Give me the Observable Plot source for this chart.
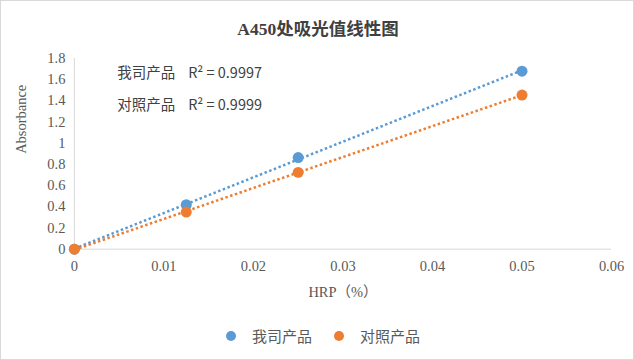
<!DOCTYPE html>
<html><head><meta charset="utf-8">
<script src="https://cdn.jsdelivr.net/npm/d3@7"></script>
<script src="https://cdn.jsdelivr.net/npm/@observablehq/plot@0.6"></script>
<style>
html,body{margin:0;padding:0;background:#fff;}
#wrap{position:relative;width:634px;height:360px;box-sizing:border-box;border:1px solid #d9d9d9;overflow:hidden;}
#title{position:absolute;left:0;top:14px;width:634px;text-align:center;font:bold 17.5px "Liberation Serif","Noto Sans CJK SC",serif;color:#404040;}
#chart{position:absolute;left:-1px;top:44px;}
#legend{position:absolute;left:5px;top:324px;width:634px;display:flex;justify-content:center;align-items:center;font:15px "Noto Sans CJK SC","Noto Sans",sans-serif;color:#595959;}
#legend span.dot{display:inline-block;width:10px;height:10px;border-radius:50%;margin-right:16px;}
#legend span.item{display:inline-flex;align-items:center;margin:0 11px;}
</style></head>
<body><div id="wrap"><div id="title">A450处吸光值线性图</div><div id="chart"></div><div id="legend"></div></div>
<script>
const hrp = [0, 0.0125, 0.025, 0.05];
const ours = [0, 0.42, 0.865, 1.68];
const control = [0, 0.35, 0.725, 1.455];
const seriesNames = ["我司产品", "对照产品"];
const r2Labels = ["R² = 0.9997", "R² = 0.9999"];
const colors = ["#5B9BD5", "#ED7D31"];
const xTicks = [0, 0.01, 0.02, 0.03, 0.04, 0.05, 0.06];
const yTicks = [0, 0.2, 0.4, 0.6, 0.8, 1, 1.2, 1.4, 1.6, 1.8];

const rows = [];
[ours, control].forEach((vals, s) => hrp.forEach((x, i) => rows.push({series: seriesNames[s], x, y: vals[i]})));

const plot = Plot.plot({
  width: 634, height: 266,
  marginLeft: 74, marginRight: 22, marginTop: 13, marginBottom: 62,
  style: {fontFamily: "'Liberation Serif', serif", fontSize: "14.5px", color: "#595959", background: "transparent"},
  x: {domain: [0, 0.06]},
  y: {domain: [0, 1.8]},
  color: {domain: seriesNames, range: colors},
  marks: [
    Plot.ruleY([0], {stroke: "#d9d9d9", strokeWidth: 1}),
    Plot.ruleX([0], {y1: 0, y2: 1.8, stroke: "#d9d9d9", strokeWidth: 1}),
    Plot.axisX({ticks: xTicks, tickSize: 0, tickPadding: 12, tickFormat: d => String(d), fontSize: 14.5, fill: "#595959", label: null}),
    Plot.axisY({ticks: yTicks, tickSize: 0, tickPadding: 9, tickFormat: d => String(d), fontSize: 14.5, fill: "#595959", label: null}),
    Plot.linearRegressionY(rows, {x: "x", y: "y", stroke: "series", z: "series", ci: 0, strokeWidth: 2.5, strokeDasharray: "2.5,2.5", strokeLinecap: "butt"}),
    Plot.dot(rows, {x: "x", y: "y", fill: "series", r: 5.5}),
    Plot.text([seriesNames[0] + "    " + r2Labels[0]], {frameAnchor: "top-left", dx: 43, dy: 9, textAnchor: "start", fontSize: 14.5, fill: "#404040", fontFamily: "'Noto Sans CJK SC', 'Liberation Sans Narrow', sans-serif"}),
    Plot.text([seriesNames[1] + "    " + r2Labels[1]], {frameAnchor: "top-left", dx: 43, dy: 41, textAnchor: "start", fontSize: 14.5, fill: "#404040", fontFamily: "'Noto Sans CJK SC', 'Liberation Sans Narrow', sans-serif"}),
    Plot.text(["HRP（%）"], {frameAnchor: "bottom", dy: 48, fontSize: 14.5, fill: "#595959", fontFamily: "'Liberation Serif', 'Noto Sans CJK SC', serif"}),
    Plot.text(["Absorbance"], {frameAnchor: "left", dx: -53, rotate: -90, fontSize: 14.5, fill: "#595959", fontFamily: "'Liberation Serif', serif"})
  ]
});
document.getElementById("chart").appendChild(plot);

const legend = document.getElementById("legend");
seriesNames.forEach((n, i) => {
  const it = document.createElement("span"); it.className = "item";
  const d = document.createElement("span"); d.className = "dot"; d.style.background = colors[i];
  it.appendChild(d); it.appendChild(document.createTextNode(n));
  legend.appendChild(it);
});
</script></body></html>
